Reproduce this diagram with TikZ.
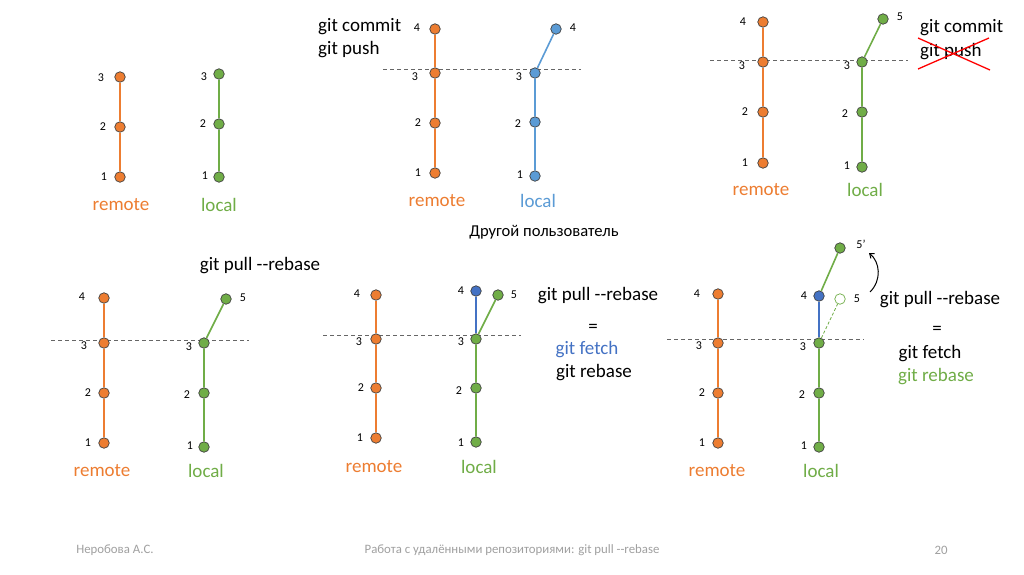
\documentclass[tikz,border=0pt]{standalone}
\usepackage{fontspec}
\setmainfont{Carlito}
\usetikzlibrary{arrows.meta}
\definecolor{orgc}{HTML}{ED7D31}
\definecolor{grnc}{HTML}{70AD47}
\definecolor{bluc}{HTML}{5B9BD5}
\definecolor{dbluc}{HTML}{4472C4}
\definecolor{footc}{HTML}{A0A0A0}
\begin{document}
\begin{tikzpicture}[x=1pt,y=-1pt,
 commitnode/.style={circle, draw=black!75, line width=0.7pt, minimum size=10.5pt, inner sep=0pt},
 cor/.style={commitnode, fill=orgc},
 cgr/.style={commitnode, fill=grnc},
 cbl/.style={commitnode, fill=bluc},
 cdb/.style={commitnode, fill=dbluc},
 chol/.style={circle, draw=grnc, fill=white, line width=0.7pt, minimum size=10.5pt, inner sep=0pt},
 num/.style={font=\fontsize{12}{14}\selectfont, inner sep=0pt},
 lbl/.style={font=\fontsize{19}{22}\selectfont, inner sep=0pt},
 cmd/.style={font=\fontsize{19}{22}\selectfont, inner sep=0pt},
 sepline/.style={draw=black!60, dash pattern=on 4pt off 3pt, line width=0.8pt},
 eor/.style={draw=orgc, line width=1.6pt},
 egr/.style={draw=grnc, line width=1.6pt},
 ebl/.style={draw=bluc, line width=1.6pt},
 edb/.style={draw=dbluc, line width=1.6pt},
 foot/.style={font=\fontsize{12.8}{15}\selectfont, text=footc, inner sep=0pt}
]
\useasboundingbox (0,0) rectangle (1024,574);
\fill[white] (0,0) rectangle (1024,574);

% ================= Panel A (top left) =================
\node[cor] (a-r3) at (120,77) {};
\node[cor] (a-r2) at (120,127) {};
\node[cor] (a-r1) at (120,177) {};
\node[cgr] (a-l3) at (219,74) {};
\node[cgr] (a-l2) at (219,124) {};
\node[cgr] (a-l1) at (219,177) {};
\draw[eor] (a-r1) -- (a-r2) -- (a-r3);
\draw[egr] (a-l1) -- (a-l2) -- (a-l3);
\node[num] (a-n-r3) at (101,78) {3};
\node[num] (a-n-r2) at (103,127) {2};
\node[num] (a-n-r1) at (104,177) {1};
\node[num] (a-n-l3) at (204,77) {3};
\node[num] (a-n-l2) at (203,124) {2};
\node[num] (a-n-l1) at (205,176) {1};
\node[lbl, text=orgc] (a-rem) at (121,205) {remote};
\node[lbl, text=grnc] (a-loc) at (219,205) {local};

% ================= Panel B (top middle) =================
\coordinate (b-s1) at (383,69);
\coordinate (b-s2) at (581,69);
\draw[sepline] (b-s1) -- (b-s2);
\node[cor] (b-r4) at (435,29) {};
\node[cor] (b-r3) at (435,73) {};
\node[cor] (b-r2) at (435,123) {};
\node[cor] (b-r1) at (435,173) {};
\node[cbl] (b-l4) at (556,29) {};
\node[cbl] (b-l3) at (535,73) {};
\node[cbl] (b-l2) at (535,122) {};
\node[cbl] (b-l1) at (535,176) {};
\draw[eor] (b-r1) -- (b-r2) -- (b-r3) -- (b-r4);
\draw[ebl] (b-l1) -- (b-l2) -- (b-l3) -- (b-l4);
\node[num] (b-n-r4) at (417,28) {4};
\node[num] (b-n-r3) at (415,77) {3};
\node[num] (b-n-r2) at (418,123) {2};
\node[num] (b-n-r1) at (418,173) {1};
\node[num] (b-n-l4) at (573,28) {4};
\node[num] (b-n-l3) at (519,77) {3};
\node[num] (b-n-l2) at (518,124) {2};
\node[num] (b-n-l1) at (520,175) {1};
\node[cmd, anchor=west] (b-c1) at (318,27) {git commit};
\node[cmd, anchor=west] (b-c2) at (318,50) {git push};
\node[lbl, text=orgc] (b-rem) at (437,201) {remote};
\node[lbl, text=bluc] (b-loc) at (538,201) {local};
\node[font=\fontsize{16.6}{19}\selectfont, inner sep=0pt] (b-other) at (544,232) {Другой пользователь};

% ================= Panel C (top right) =================
\coordinate (c-s1) at (710,60);
\coordinate (c-s2) at (908,60);
\draw[sepline] (c-s1) -- (c-s2);
\node[cor] (c-r4) at (763,22) {};
\node[cor] (c-r3) at (763,62) {};
\node[cor] (c-r2) at (763,112) {};
\node[cor] (c-r1) at (763,163) {};
\node[cgr] (c-l5) at (883,19) {};
\node[cgr] (c-l3) at (862,62) {};
\node[cgr] (c-l2) at (862,112) {};
\node[cgr] (c-l1) at (862,167) {};
\draw[eor] (c-r1) -- (c-r2) -- (c-r3) -- (c-r4);
\draw[egr] (c-l1) -- (c-l2) -- (c-l3) -- (c-l5);
\node[num] (c-n-r4) at (743,22) {4};
\node[num] (c-n-r3) at (742,66) {3};
\node[num] (c-n-r2) at (745,112) {2};
\node[num] (c-n-r1) at (745,163) {1};
\node[num] (c-n-l5) at (900,17) {5};
\node[num] (c-n-l3) at (847,66) {3};
\node[num] (c-n-l2) at (845,114) {2};
\node[num] (c-n-l1) at (847,166) {1};
\node[lbl, text=orgc] (c-rem) at (761,190) {remote};
\node[lbl, text=grnc] (c-loc) at (865,190) {local};
\node[cmd, anchor=west] (c-c1) at (920,28) {git commit};
\node[cmd, anchor=west] (c-c2) at (920,52) {git push};
\coordinate (c-x1) at (918,38);
\coordinate (c-x2) at (990,70);
\coordinate (c-x3) at (918,69);
\coordinate (c-x4) at (989,38);
\draw[red, line width=1.3pt] (c-x1) -- (c-x2);
\draw[red, line width=1.3pt] (c-x3) -- (c-x4);

% ================= Panel D (bottom left) =================
\coordinate (d-s1) at (51,340);
\coordinate (d-s2) at (249,340);
\draw[sepline] (d-s1) -- (d-s2);
\node[cor] (d-r4) at (104,298) {};
\node[cor] (d-r3) at (104,343) {};
\node[cor] (d-r2) at (104,393) {};
\node[cor] (d-r1) at (104,443) {};
\node[cgr] (d-l5) at (226,299) {};
\node[cgr] (d-l3) at (204,343) {};
\node[cgr] (d-l2) at (204,393) {};
\node[cgr] (d-l1) at (204,447) {};
\draw[eor] (d-r1) -- (d-r2) -- (d-r3) -- (d-r4);
\draw[egr] (d-l1) -- (d-l2) -- (d-l3) -- (d-l5);
\node[num] (d-n-r4) at (82,297) {4};
\node[num] (d-n-r3) at (84,346) {3};
\node[num] (d-n-r2) at (88,393) {2};
\node[num] (d-n-r1) at (88,443) {1};
\node[num] (d-n-l5) at (243,298) {5};
\node[num] (d-n-l3) at (189,347) {3};
\node[num] (d-n-l2) at (187,395) {2};
\node[num] (d-n-l1) at (190,446) {1};
\node[lbl, text=orgc] (d-rem) at (102,471) {remote};
\node[lbl, text=grnc] (d-loc) at (206,471) {local};
\node[cmd] (d-cmd) at (260,266) {git pull -{}-rebase};

% ================= Panel E (bottom middle) =================
\coordinate (e-s1) at (323,335);
\coordinate (e-s2) at (521,335);
\draw[sepline] (e-s1) -- (e-s2);
\node[cor] (e-r4) at (376,295) {};
\node[cor] (e-r3) at (376,339) {};
\node[cor] (e-r2) at (376,388) {};
\node[cor] (e-r1) at (376,438) {};
\node[cdb] (e-l4) at (476,291) {};
\node[cgr] (e-l5) at (498,295) {};
\node[cgr] (e-l3) at (476,339) {};
\node[cgr] (e-l2) at (476,388) {};
\node[cgr] (e-l1) at (476,442) {};
\draw[eor] (e-r1) -- (e-r2) -- (e-r3) -- (e-r4);
\draw[egr] (e-l1) -- (e-l2) -- (e-l3) -- (e-l5);
\draw[edb] (e-l3) -- (e-l4);
\node[num] (e-n-r4) at (357,294) {4};
\node[num] (e-n-r3) at (359,342) {3};
\node[num] (e-n-r2) at (361,388) {2};
\node[num] (e-n-r1) at (360,438) {1};
\node[num] (e-n-l4) at (461,291) {4};
\node[num] (e-n-l5) at (514,295) {5};
\node[num] (e-n-l3) at (461,342) {3};
\node[num] (e-n-l2) at (459,391) {2};
\node[num] (e-n-l1) at (461,443) {1};
\node[lbl, text=orgc] (e-rem) at (374,467) {remote};
\node[lbl, text=grnc] (e-loc) at (479,467) {local};
\node[cmd] (e-c1) at (598,296) {git pull -{}-rebase};
\node[cmd] (e-c2) at (593,328) {=};
\node[cmd, text=dbluc] (e-c3) at (587,350) {git fetch};
\node[cmd] (e-c4) at (594,373) {git rebase};

% ================= Panel F (bottom right) =================
\coordinate (f-s1) at (667,339);
\coordinate (f-s2) at (864,339);
\draw[sepline] (f-s1) -- (f-s2);
\node[cor] (f-r4) at (718,294) {};
\node[cor] (f-r3) at (718,343) {};
\node[cor] (f-r2) at (718,393) {};
\node[cor] (f-r1) at (718,443) {};
\node[cdb] (f-l4) at (819,296) {};
\node[cgr] (f-l5p) at (840,248) {};
\node[chol] (f-l5) at (840,299) {};
\node[cgr] (f-l3) at (819,343) {};
\node[cgr] (f-l2) at (819,393) {};
\node[cgr] (f-l1) at (819,447) {};
\draw[eor] (f-r1) -- (f-r2) -- (f-r3) -- (f-r4);
\draw[egr] (f-l1) -- (f-l2) -- (f-l3);
\draw[edb] (f-l3) -- (f-l4);
\draw[egr] (f-l4) -- (f-l5p);
\draw[draw=grnc, line width=0.8pt, dash pattern=on 3pt off 2pt] (f-l3) -- (f-l5);
\node[num] (f-n-r4) at (697,294) {4};
\node[num] (f-n-r3) at (699,346) {3};
\node[num] (f-n-r2) at (702,393) {2};
\node[num] (f-n-r1) at (702,443) {1};
\node[num] (f-n-l4) at (804,296) {4};
\node[num] (f-n-l5p) at (861,244) {5’};
\node[num] (f-n-l5) at (857,299) {5};
\node[num] (f-n-l3) at (803,347) {3};
\node[num] (f-n-l2) at (802,395) {2};
\node[num] (f-n-l1) at (804,446) {1};
\coordinate (f-a1) at (870,292);
\coordinate (f-a2) at (869,253);
\draw[black, line width=1pt, -{Straight Barb[length=4pt,width=6pt]}] (f-a1) .. controls (882,280) and (880,262) .. (f-a2);
\node[lbl, text=orgc] (f-rem) at (717,471) {remote};
\node[lbl, text=grnc] (f-loc) at (821,471) {local};
\node[cmd] (f-c1) at (940,300) {git pull -{}-rebase};
\node[cmd] (f-c2) at (937,330) {=};
\node[cmd] (f-c3) at (930,354) {git fetch};
\node[cmd, text=grnc] (f-c4) at (936,377) {git rebase};

% ================= Footer =================
\node[foot] (foot-l) at (115,550) {Неробова А.С.};
\node[foot] (foot-c) at (512,550) {Работа с удалёнными репозиториями: git pull -{}-rebase};
\node[foot] (foot-r) at (941,550) {20};
\end{tikzpicture}
\end{document}
